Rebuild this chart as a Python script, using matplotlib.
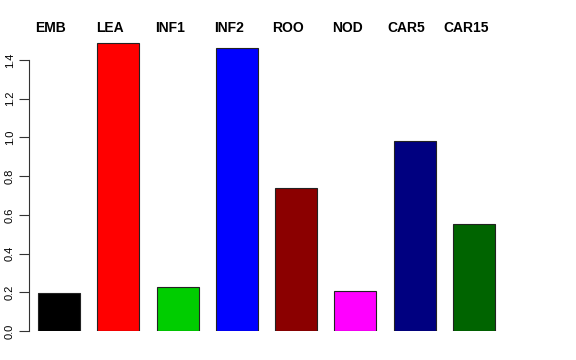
import matplotlib
matplotlib.use("Agg")
import matplotlib.pyplot as plt
import matplotlib.transforms as mtransforms

categories = ["EMB", "LEA", "INF1", "INF2", "ROO", "NOD", "CAR5", "CAR15"]
values = [0.197, 1.487, 0.227, 1.462, 0.739, 0.207, 0.981, 0.553]
colors = ["#000000", "#FF0000", "#00CD00", "#0000FF", "#8B0000", "#FF00FF", "#000080", "#006400"]
yticks = [0.0, 0.2, 0.4, 0.6, 0.8, 1.0, 1.2, 1.4]
ytick_labels = ["0.0", "0.2", "0.4", "0.6", "0.8", "1.0", "1.2", "1.4"]

plt.rcParams['font.family'] = ['Liberation Sans', 'DejaVu Sans']

W, H = 576, 360
fig = plt.figure(figsize=(W / 100, H / 100), dpi=100)

# pixel geometry
ax_left_px, ax_right_px = 29, 540
ax_bottom_px, ax_top_px = 331, 40.6
ax = fig.add_axes([ax_left_px / W, 1 - ax_bottom_px / H,
                   (ax_right_px - ax_left_px) / W, (ax_bottom_px - ax_top_px) / H])

pitch = 59.29
c0 = 59
x = list(range(len(categories)))
ax.bar(x, values, width=42 / pitch, color=colors, edgecolor="#222222", linewidth=0.8)
ax.set_xlim((ax_left_px - c0) / pitch, (ax_right_px - c0) / pitch)
ax.set_ylim(0, 1.5)

for s in ["top", "right", "bottom"]:
    ax.spines[s].set_visible(False)
ax.spines["left"].set_bounds(0, 1.4)
ax.spines["left"].set_color("#333333")
ax.spines["left"].set_linewidth(0.8)
ax.set_xticks([])
ax.set_yticks(yticks)
ax.set_yticklabels(ytick_labels, rotation=90, va="center", fontsize=8)
ax.tick_params(axis="y", length=7, width=0.8, color="#333333", pad=3, labelcolor="black")

trans = mtransforms.blended_transform_factory(ax.transData, fig.transFigure)
for i, name in enumerate(categories):
    ax.text(i - 8 / pitch, 1 - 28 / H, name, transform=trans, ha="center", va="center",
            fontsize=10, fontweight="bold")

fig.savefig("out.png", dpi=100)
